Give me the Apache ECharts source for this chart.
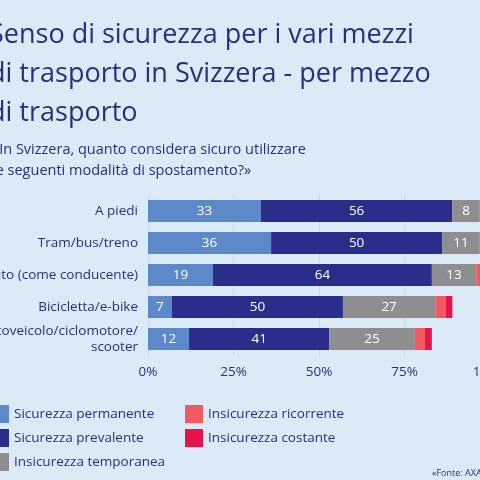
<!DOCTYPE html>
<html>
<head>
<meta charset="UTF-8">
<script src="https://cdn.jsdelivr.net/npm/echarts@6/dist/echarts.min.js"></script>
<style>
  html, body { margin:0; padding:0; overflow:hidden; width:480px; height:480px; background:#dce9f6; }
  #c { position:absolute; left:-22px; top:0; width:520px; height:480px; }
</style>
</head>
<body>
<div id="c"></div>
<script>
  // mezzi di trasporto (dall'alto in basso)
  const categories = ['A piedi', 'Tram/bus/treno', 'Auto (come conducente)', 'Bicicletta/e-bike', 'Motoveicolo/ciclomotore/\nscooter'];
  const seriesNames = ['Sicurezza permanente', 'Sicurezza prevalente', 'Insicurezza temporanea', 'Insicurezza ricorrente', 'Insicurezza costante'];
  const permanente = [33, 36, 19, 7, 12];
  const prevalente = [56, 50, 64, 50, 41];
  const temporanea = [8, 11, 13, 27, 25];
  const ricorrente = [2, 2, 3, 3, 3];
  const costante = [1, 1, 1, 2, 2];
  const colors = ['#5b89c9', '#2b2d8b', '#8e8e90', '#f15a60', '#e5154b'];

  const textColor = '#2a2f7c';
  const values = [permanente, prevalente, temporanea, ricorrente, costante];

  const chart = echarts.init(document.getElementById('c'));
  chart.setOption({
    backgroundColor: '#dce9f6',
    textStyle: { fontFamily: 'Open Sans, sans-serif' },
    title: [{
      text: 'Senso di sicurezza per i vari mezzi\ndi trasporto in Svizzera - per mezzo\ndi trasporto',
      left: 6, top: 11,
      textStyle: { color: textColor, fontSize: 27, fontWeight: 'normal', lineHeight: 39, fontFamily: 'Open Sans' }
    }, {
      text: '«In Svizzera, quanto considera sicuro utilizzare\nle seguenti modalità di spostamento?»',
      left: 9, top: 134,
      textStyle: { color: textColor, fontSize: 14.5, fontWeight: 'normal', lineHeight: 21, fontFamily: 'Open Sans' }
    }, {
      text: '«Fonte: AXA Svizzera»',
      left: 449, top: 464,
      textStyle: { color: textColor, fontSize: 9, fontWeight: 'normal' }
    }],
    legend: [{
      data: seriesNames.slice(0, 3),
      orient: 'vertical', left: 8, top: 400,
      itemWidth: 18, itemHeight: 18, itemGap: 6, icon: 'rect',
      textStyle: { color: textColor, fontSize: 13.5 }
    }, {
      data: seriesNames.slice(3),
      orient: 'vertical', left: 202, top: 400,
      itemWidth: 18, itemHeight: 18, itemGap: 6, icon: 'rect',
      textStyle: { color: textColor, fontSize: 13.5 }
    }],
    grid: { left: 170, right: 8, top: 195, height: 160, containLabel: false, outerBoundsMode: 'none' },
    xAxis: {
      type: 'value', min: 0, max: 100, interval: 25,
      axisLabel: { formatter: '{value}%', color: textColor, fontSize: 13.5, margin: 10 },
      splitLine: { lineStyle: { color: '#c9d8e8' } },
      axisLine: { show: false }, axisTick: { show: false }
    },
    yAxis: {
      type: 'category', data: categories, inverse: true,
      axisLabel: { color: textColor, fontSize: 13.5, margin: 10, lineHeight: 16 },
      axisLine: { show: false }, axisTick: { show: false }
    },
    series: seriesNames.map((name, i) => ({
      name, type: 'bar', stack: 'tot', data: values[i], barWidth: 22,
      itemStyle: { color: colors[i] },
      label: { show: true, color: '#fff', fontSize: 13.5,
        formatter: p => (p.value >= 5 ? p.value : '') }
    }))
  });
</script>
</body>
</html>
